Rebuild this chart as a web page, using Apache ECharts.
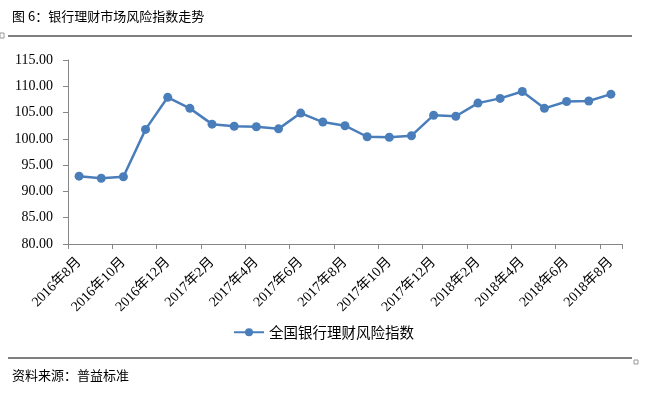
<!DOCTYPE html>
<html><head><meta charset="utf-8">
<script src="https://cdn.jsdelivr.net/npm/echarts@6/dist/echarts.min.js"></script>
<style>html,body{margin:0;padding:0;background:#fff}#c{width:647px;height:394px}</style>
</head><body><div id="c"></div>
<script>
const categories = ["2016年8月","2016年9月","2016年10月","2016年11月","2016年12月","2017年1月","2017年2月","2017年3月","2017年4月","2017年5月","2017年6月","2017年7月","2017年8月","2017年9月","2017年10月","2017年11月","2017年12月","2018年1月","2018年2月","2018年3月","2018年4月","2018年5月","2018年6月","2018年7月","2018年8月"];
const riskIndex = [92.9,92.5,92.8,101.8,107.9,105.8,102.8,102.4,102.3,101.9,104.9,103.2,102.5,100.4,100.3,100.6,104.5,104.3,106.8,107.7,109.0,105.8,107.1,107.2,108.5];
const seriesName = "全国银行理财风险指数";
const titleText = "图 6：银行理财市场风险指数走势";
const sourceText = "资料来源：普益标准";

const serif = "'Liberation Serif','Times New Roman','Noto Sans CJK SC',serif";
const cjk = "'Noto Sans CJK SC',sans-serif";
const chart = echarts.init(document.getElementById('c'));
chart.setOption({
  animation: false,
  grid: {left: 68, right: 25, top: 60, bottom: 150, containLabel: false},
  xAxis: {
    type: 'category', data: categories, boundaryGap: true,
    axisLine: {lineStyle: {color: '#868686', width: 1}},
    axisTick: {show: true, interval: 1, length: 5, lineStyle: {color: '#868686'}},
    axisLabel: {interval: 1, rotate: 45, color: '#000', fontFamily: serif, fontSize: 14, margin: 16}
  },
  yAxis: {
    type: 'value', min: 80, max: 115, interval: 5,
    axisLine: {show: true, lineStyle: {color: '#868686', width: 1}},
    axisTick: {show: true, length: 5, lineStyle: {color: '#868686'}},
    splitLine: {show: false},
    axisLabel: {color: '#000', fontFamily: serif, fontSize: 14, margin: 15, formatter: v => v.toFixed(2)}
  },
  legend: {
    data: [seriesName], left: 'center', top: 320, itemWidth: 30, itemHeight: 10,
    textStyle: {fontFamily: cjk, fontSize: 14.5, color: '#000'}
  },
  series: [{
    name: seriesName, type: 'line', data: riskIndex,
    symbol: 'circle', symbolSize: 9,
    lineStyle: {color: '#4a7ebb', width: 2.5},
    itemStyle: {color: '#4a7ebb'}
  }],
  graphic: [
    {type: 'text', left: 12, top: 10, style: {text: titleText, font: "13px " + cjk, fill: '#000'}},
    {type: 'line', shape: {x1: 8, y1: 36, x2: 632, y2: 36}, style: {stroke: '#000', lineWidth: 1}},
    {type: 'line', shape: {x1: 8, y1: 358, x2: 632, y2: 358}, style: {stroke: '#000', lineWidth: 1}},
    {type: 'text', left: 12, top: 369, style: {text: sourceText, font: "13px " + cjk, fill: '#000'}},
    {type: 'rect', shape: {x: 0, y: 33, width: 4, height: 5}, style: {fill: 'none', stroke: '#999', lineWidth: 1}},
    {type: 'rect', shape: {x: 634, y: 360, width: 4, height: 4}, style: {fill: 'none', stroke: '#999', lineWidth: 1}}
  ]
});
</script></body></html>
